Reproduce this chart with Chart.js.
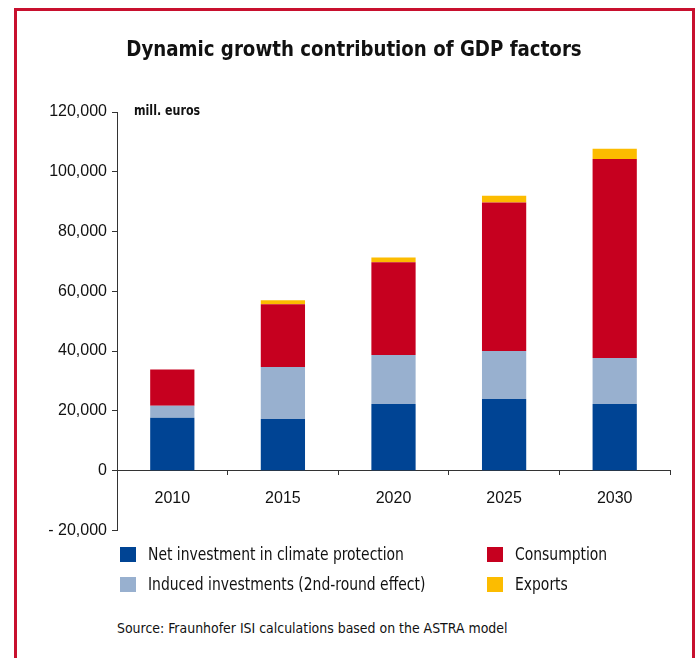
<!DOCTYPE html>
<html>
<head>
<meta charset="utf-8">
<script src="https://cdn.jsdelivr.net/npm/chart.js@4.4.0/dist/chart.umd.min.js"></script>
<style>
  html, body { margin: 0; padding: 0; background: #fff; }
  body { width: 695px; height: 658px; position: relative; overflow: hidden; }
  .frame {
    position: absolute; left: 14px; top: 8px; width: 675px; height: 660px;
    border: 3px solid #c8102e; border-bottom: none;
  }
  .narrow { font-family: "Liberation Sans Narrow", "DejaVu Sans Condensed", "Liberation Sans", sans-serif; color: #111; }
  #title { position: absolute; left: 0; width: 708px; top: 36px; text-align: center; font-size: 22px; font-weight: bold; transform: scaleX(0.92); transform-origin: 354px 0; }
  #unit { position: absolute; left: 134px; top: 102px; font-size: 14px; font-weight: bold; transform: scaleX(0.88); transform-origin: 0 0; }
  #chartBox { position: absolute; left: 0; top: 0; width: 695px; height: 545px; }
  .leg { position: absolute; font-size: 17px; white-space: nowrap; transform: scaleX(0.91); transform-origin: 0 0; }
  .sw { position: absolute; width: 16px; height: 15px; }
  #source { position: absolute; left: 117px; top: 620px; font-size: 14.5px; transform: scaleX(0.96); transform-origin: 0 0; }
</style>
</head>
<body>
<div class="frame"></div>
<div id="chartBox"><canvas id="c" width="695" height="545"></canvas></div>
<div id="title" class="narrow">Dynamic growth contribution of GDP factors</div>
<div id="unit" class="narrow">mill. euros</div>
<div id="legend"></div>
<div id="source" class="narrow">Source: Fraunhofer ISI calculations based on the ASTRA model</div>
<script>
// --- DADOS ---
const years = ['2010', '2015', '2020', '2025', '2030'];
const netInvestment = [17700, 17300, 22300, 24000, 22300];
const inducedInvestment = [4000, 17400, 16400, 16000, 15400];
const consumption = [12100, 21000, 31000, 49700, 66600];
const exportsVals = [0, 1300, 1600, 2300, 3400];
const yMin = -20000, yMax = 120000, yStep = 20000;

const series = [
  { label: 'Net investment in climate protection', data: netInvestment, color: '#004494' },
  { label: 'Induced investments (2nd-round effect)', data: inducedInvestment, color: '#98b0cf' },
  { label: 'Consumption', data: consumption, color: '#c6001f' },
  { label: 'Exports', data: exportsVals, color: '#fcbc00' }
];

// legenda em 2 colunas (ordem: col1 = investimentos, col2 = consumo/exportacoes)
const legendPos = [
  { x: 120, y: 547 }, { x: 120, y: 577 }, { x: 487, y: 547 }, { x: 487, y: 577 }
];
const legend = document.getElementById('legend');
series.forEach((s, i) => {
  const p = legendPos[i];
  legend.innerHTML += `<div class="sw" style="left:${p.x}px;top:${p.y}px;background:${s.color}"></div>
    <div class="leg narrow" style="left:${p.x + 28}px;top:${p.y - 3}px">${s.label}</div>`;
});

const axisColor = '#333';
const tickFont = { family: '"Liberation Sans", Arial, sans-serif', size: 16 };

new Chart(document.getElementById('c'), {
  type: 'bar',
  data: {
    labels: years,
    datasets: series.map(s => ({
      label: s.label,
      data: s.data,
      backgroundColor: s.color,
      borderWidth: 0,
      barPercentage: 0.4,
      categoryPercentage: 1.0
    }))
  },
  options: {
    responsive: false,
    animation: false,
    layout: { padding: { left: 0, right: 25, top: 112, bottom: 13 } },
    plugins: { legend: { display: false }, tooltip: { enabled: false }, title: { display: false } },
    scales: {
      x: {
        stacked: true,
        position: { y: 0 },
        grid: { offset: true, drawOnChartArea: false, drawTicks: true, tickLength: 4, color: axisColor },
        border: { color: axisColor, width: 1 },
        ticks: { color: '#111', font: tickFont, padding: 14, maxRotation: 0 }
      },
      y: {
        stacked: true,
        min: yMin, max: yMax,
        afterFit: axis => { axis.width = 117; },
        grid: { drawOnChartArea: false, drawTicks: true, tickLength: 5, color: axisColor },
        border: { color: axisColor, width: 1 },
        ticks: {
          stepSize: yStep,
          color: '#111',
          font: tickFont,
          padding: 5,
          callback: v => (v < 0 ? '- ' : '') + Math.abs(v).toLocaleString('en-US')
        }
      }
    }
  }
});
</script>
</body>
</html>
